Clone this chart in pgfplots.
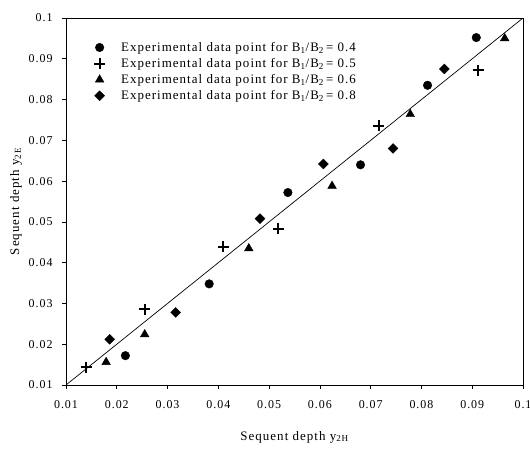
\documentclass[border=0pt]{standalone}
\usepackage{fontspec}
\setmainfont[LetterSpace=8]{Liberation Serif}
\usepackage{pgfplots}
\pgfplotsset{compat=1.18}

\begin{document}
\begin{tikzpicture}
\begin{axis}[
    name=ax,
    scale only axis,
    width=457bp, height=367bp,
    xmin=0.01, xmax=0.1,
    ymin=0.01, ymax=0.1,
    xtick={0.01,0.02,0.03,0.04,0.05,0.06,0.07,0.08,0.09,0.1},
    ytick={0.01,0.02,0.03,0.04,0.05,0.06,0.07,0.08,0.09,0.1},
    xticklabels={0.01,0.02,0.03,0.04,0.05,0.06,0.07,0.08,0.09,0.1},
    yticklabels={0.01,0.02,0.03,0.04,0.05,0.06,0.07,0.08,0.09,0.1},
    scaled ticks=false,
    tick align=outside,
    major tick length=4bp,
    xtick pos=bottom, ytick pos=left,
    tick style={black, line width=0.6pt},
    axis line style={line width=0.8pt},
    ticklabel style={font=\fontsize{12}{14}\selectfont},
    xticklabel style={yshift=-8bp},
    yticklabel style={xshift=-6bp},
    xlabel={Sequent depth y\textsubscript{2H}},
    ylabel={Sequent depth y\textsubscript{2E}},
    label style={font=\fontsize{13}{15}\selectfont},
    xlabel style={at={(axis description cs:0.5,0)}, anchor=center, yshift=-52bp},
    ylabel style={at={(axis description cs:0,0.5)}, anchor=center, yshift=50bp},
    legend style={draw=none, fill=none, at={(axis description cs:0,1)}, anchor=north west,
        xshift=21bp, yshift=-20bp, font=\fontsize{13}{15}\selectfont, row sep=1.5bp},
    legend cell align=left,
    legend image code/.code={
        \draw[#1] plot coordinates {(8.5bp,0bp)};
        \path (0bp,0bp) (27bp,0bp);
    },
]
\addplot[only marks, mark=*, mark size=4.3bp, black] coordinates {
    (0.0217,0.0172) (0.0382,0.0348) (0.0537,0.0572) (0.0680,0.0640)
    (0.0812,0.0835) (0.0908,0.0952)
};
\addlegendentry{Experimental data point for B\textsubscript{1}/B\textsubscript{2}\,= 0.4}
\addplot[only marks, mark=+, mark size=5.5bp, line width=1.9pt, black] coordinates {
    (0.0140,0.0144) (0.0255,0.0286) (0.0410,0.0439) (0.0518,0.0483)
    (0.0716,0.0736) (0.0912,0.0872)
};
\addlegendentry{Experimental data point for B\textsubscript{1}/B\textsubscript{2}\,= 0.5}
\addplot[only marks, mark=triangle*, mark size=5bp, black] coordinates {
    (0.0179,0.0156) (0.0255,0.0224) (0.0460,0.0435) (0.0624,0.0588)
    (0.0778,0.0764) (0.0964,0.0950)
};
\addlegendentry{Experimental data point for B\textsubscript{1}/B\textsubscript{2}\,= 0.6}
\addplot[only marks, mark=square*, mark size=3.5bp, mark options={rotate=45}, black] coordinates {
    (0.0186,0.0212) (0.0316,0.0278) (0.0482,0.0508) (0.0607,0.0642)
    (0.0744,0.0680) (0.0845,0.0875)
};
\addlegendentry{Experimental data point for B\textsubscript{1}/B\textsubscript{2}\,= 0.8}
\addplot[black, line width=0.7pt, no marks, forget plot] coordinates {
    (0.01,0.01) (0.1,0.1)
};
\end{axis}
\pgfresetboundingbox
\path ([shift={(-66bp,-63bp)}]ax.south west) rectangle ([shift={(7bp,18bp)}]ax.north east);
\end{tikzpicture}
\end{document}
